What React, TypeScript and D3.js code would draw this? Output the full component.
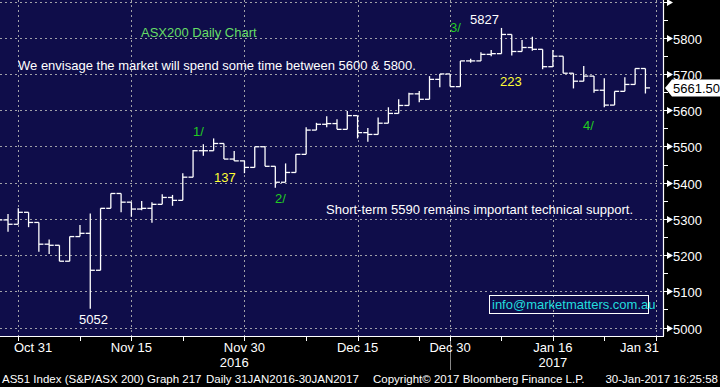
import React from 'react';
import * as d3 from 'd3';

// trading days shown (Jan 31 is only an axis position)
const dates = [
  '2016-10-27', '2016-10-28', '2016-10-31', '2016-11-01', '2016-11-02', '2016-11-03', '2016-11-04',
  '2016-11-07', '2016-11-08', '2016-11-09', '2016-11-10', '2016-11-11', '2016-11-14', '2016-11-15',
  '2016-11-16', '2016-11-17', '2016-11-18', '2016-11-21', '2016-11-22', '2016-11-23', '2016-11-24',
  '2016-11-25', '2016-11-28', '2016-11-29', '2016-11-30', '2016-12-01', '2016-12-02', '2016-12-05',
  '2016-12-06', '2016-12-07', '2016-12-08', '2016-12-09', '2016-12-12', '2016-12-13', '2016-12-14',
  '2016-12-15', '2016-12-16', '2016-12-19', '2016-12-20', '2016-12-21', '2016-12-22', '2016-12-23',
  '2016-12-28', '2016-12-29', '2016-12-30', '2017-01-03', '2017-01-04', '2017-01-05', '2017-01-06',
  '2017-01-09', '2017-01-10', '2017-01-11', '2017-01-12', '2017-01-13', '2017-01-16', '2017-01-17',
  '2017-01-18', '2017-01-19', '2017-01-20', '2017-01-23', '2017-01-24', '2017-01-25', '2017-01-27',
  '2017-01-30',
];
const opens = [
  5300, 5297, 5285, 5318, 5290, 5230, 5227, 5183, 5251, 5260, 5158, 5329, 5370, 5346,
  5327, 5329, 5340, 5359, 5351, 5415, 5488, 5488, 5508, 5465, 5460, 5442, 5499, 5445,
  5401, 5428, 5478, 5545, 5561, 5563, 5547, 5585, 5538, 5533, 5564, 5591, 5613, 5645,
  5630, 5685, 5700, 5665, 5736, 5736, 5754, 5756, 5809, 5762, 5773, 5768, 5720, 5749,
  5702, 5680, 5694, 5655, 5614, 5652, 5671, 5715,
];
const highs = [
  5312, 5313, 5329, 5318, 5290, 5243, 5227, 5251, 5283, 5315, 5329, 5370, 5370, 5346,
  5349, 5346, 5368, 5366, 5426, 5490, 5506, 5522, 5508, 5487, 5460, 5499, 5499, 5445,
  5453, 5478, 5553, 5565, 5583, 5575, 5598, 5585, 5551, 5580, 5608, 5630, 5648, 5653,
  5694, 5700, 5700, 5736, 5742, 5760, 5766, 5827, 5809, 5794, 5803, 5768, 5766, 5749,
  5702, 5722, 5694, 5688, 5652, 5691, 5715, 5715,
];
const lows = [
  5290, 5264, 5285, 5277, 5209, 5203, 5183, 5183, 5251, 5052, 5158, 5329, 5318, 5306,
  5324, 5289, 5340, 5336, 5351, 5415, 5474, 5488, 5465, 5460, 5426, 5442, 5445, 5386,
  5401, 5428, 5478, 5545, 5553, 5547, 5547, 5522, 5513, 5533, 5564, 5591, 5613, 5622,
  5630, 5663, 5665, 5665, 5731, 5736, 5749, 5756, 5751, 5762, 5764, 5713, 5720, 5702,
  5660, 5680, 5648, 5608, 5614, 5652, 5671, 5646,
];
const closes = [
  5297, 5285, 5318, 5290, 5230, 5227, 5183, 5251, 5260, 5158, 5329, 5370, 5346, 5327,
  5329, 5340, 5359, 5351, 5415, 5488, 5488, 5508, 5465, 5460, 5442, 5499, 5445, 5401,
  5428, 5478, 5545, 5561, 5563, 5547, 5585, 5538, 5533, 5564, 5591, 5613, 5645, 5630,
  5685, 5700, 5665, 5736, 5736, 5754, 5756, 5809, 5762, 5773, 5768, 5720, 5749, 5702,
  5680, 5694, 5655, 5614, 5652, 5671, 5715, 5661.5,
];

const tickDates = ['2016-10-31', '2016-11-15', '2016-11-30', '2016-12-15', '2016-12-30', '2017-01-16', '2017-01-31'];
const tickLabels = ['Oct 31', 'Nov 15', 'Nov 30', 'Dec 15', 'Dec 30', 'Jan 16', 'Jan 31'];
const minorTickDates = ['2016-11-08', '2016-11-22', '2016-12-08', '2016-12-23', '2017-01-09', '2017-01-23'];
const yearLabels = [
  { date: '2016-11-29', text: '2016' },
  { date: '2017-01-16', text: '2017' },
];
const yTicks = [5000, 5100, 5200, 5300, 5400, 5500, 5600, 5700, 5800, 5900];
const yMinor = [5050, 5150, 5250, 5350, 5450, 5550, 5650, 5750, 5850];
const lastPrice = 5661.5;

const W = 720;
const H = 387;
const plotRight = 663;
const plotBottom = 336;
const font = '"Liberation Sans", Arial, sans-serif';

export default function App() {
  const x = d3.scalePoint<string>()
    .domain([...dates, '2017-01-31'])
    .range([-2.26, 655.7]);
  const y = d3.scaleLinear().domain([5000, 5900]).range([327.5, 1.5]);

  const bars = dates.map((d, i) => ({ d, o: opens[i], h: highs[i], l: lows[i], c: closes[i] }));
  const tick = 4.6;

  return (
    <svg width={W} height={H} style={{ position: 'absolute', left: 0, top: 0 }} fontFamily={font}>
      <defs>
        <clipPath id="plot">
          <rect x={0} y={0} width={plotRight} height={plotBottom} />
        </clipPath>
      </defs>
      <rect width={W} height={H} fill="#000" />
      <rect width={plotRight} height={plotBottom} fill="#0f0d4a" />

      {/* grid */}
      <g stroke="#a0a0a8" strokeWidth={1} strokeDasharray="2,3" shapeRendering="crispEdges">
        {yTicks.map(v => (
          <line key={v} x1={0} x2={plotRight} y1={Math.round(y(v)) + 0.5} y2={Math.round(y(v)) + 0.5} />
        ))}
        {tickDates.map(d => (
          <line key={d} x1={Math.round(x(d)!) + 0.5} x2={Math.round(x(d)!) + 0.5} y1={0} y2={plotBottom} />
        ))}
      </g>

      {/* OHLC bars */}
      <g clipPath="url(#plot)" stroke="#fff" strokeWidth={1.3} fill="none">
        {bars.map(b => {
          const cx = x(b.d)!;
          return (
            <g key={b.d}>
              <line x1={cx} x2={cx} y1={y(b.h)} y2={y(b.l)} />
              <line x1={cx - tick} x2={cx} y1={y(b.o)} y2={y(b.o)} />
              <line x1={cx} x2={cx + tick} y1={y(b.c)} y2={y(b.c)} />
            </g>
          );
        })}
      </g>

      {/* annotations */}
      <g fontSize={13}>
        <text x={141} y={37} fill="#66dd66">ASX200 Daily Chart</text>
        <text x={18} y={70} fill="#fff">We envisage the market will spend some time between 5600 &amp; 5800.</text>
        <text x={326} y={214} fill="#fff">Short-term 5590 remains important technical support.</text>
        <text x={193} y={136} fill="#22cc22">1/</text>
        <text x={275} y={203} fill="#22cc22">2/</text>
        <text x={450} y={32} fill="#22cc22">3/</text>
        <text x={583} y={130} fill="#22cc22">4/</text>
        <text x={214} y={182} fill="#ffff33">137</text>
        <text x={500} y={86} fill="#ffff33">223</text>
        <text x={470} y={24} fill="#fff">5827</text>
        <text x={79} y={324} fill="#fff">5052</text>
        <rect x={489.5} y={295.5} width={159} height={18} fill="none" stroke="#fff" strokeWidth={1} />
        <text x={492} y={309} fill="#22dddd">info@marketmatters.com.au</text>
      </g>

      {/* right axis */}
      <g>
        <line x1={plotRight + 0.5} x2={plotRight + 0.5} y1={0} y2={plotBottom} stroke="#fff" strokeWidth={1.2} />
        {yMinor.map(v => (
          <line key={v} x1={plotRight} x2={plotRight + 5} y1={Math.round(y(v)) + 0.5} y2={Math.round(y(v)) + 0.5} stroke="#fff" />
        ))}
        {yTicks.map(v => {
          const yy = Math.round(y(v)) + 0.5;
          return (
            <g key={v}>
              <line x1={plotRight} x2={plotRight + 4} y1={yy} y2={yy} stroke="#fff" />
              <polygon points={`${plotRight + 4},${yy - 3.5} ${plotRight + 4},${yy + 3.5} ${plotRight + 10},${yy}`} fill="#fff" />
              {v < 5900 && (
                <text x={673} y={yy + 5} fill="#fff" fontSize={13}>{v}</text>
              )}
            </g>
          );
        })}
        <polygon
          points={`${plotRight + 2},${y(lastPrice)} ${plotRight + 9},${y(lastPrice) - 8.5} ${W},${y(lastPrice) - 8.5} ${W},${y(lastPrice) + 8.5} ${plotRight + 9},${y(lastPrice) + 8.5}`}
          fill="#fff"
        />
        <text x={673} y={y(lastPrice) + 5} fill="#000" fontSize={13}>{d3.format('.2f')(lastPrice)}</text>
      </g>

      {/* bottom axis */}
      <g>
        <line x1={0} x2={plotRight + 1} y1={plotBottom + 0.5} y2={plotBottom + 0.5} stroke="#fff" strokeWidth={1.2} />
        {[...tickDates, ...minorTickDates].map(d => (
          <line key={d} x1={Math.round(x(d)!) + 0.5} x2={Math.round(x(d)!) + 0.5} y1={plotBottom} y2={plotBottom + 5} stroke="#fff" />
        ))}
        <line x1={Math.round(x('2016-12-30')!) + 0.5} x2={Math.round(x('2016-12-30')!) + 0.5} y1={plotBottom + 5} y2={370} stroke="#888" />
        {tickDates.map((d, i) => {
          const anchor = i === 0 ? 'start' : i === tickDates.length - 1 ? 'end' : 'middle';
          const tx = i === 0 ? 14 : i === tickDates.length - 1 ? 659 : x(d)!;
          return (
            <text key={d} x={tx} y={352} fill="#fff" fontSize={13} textAnchor={anchor}>{tickLabels[i]}</text>
          );
        })}
        {yearLabels.map(yl => (
          <text key={yl.text} x={x(yl.date)!} y={367} fill="#fff" fontSize={13} textAnchor="middle">{yl.text}</text>
        ))}
      </g>

      {/* footer */}
      <g fontSize={11.5} fill="#fff">
        <text x={2} y={383}>AS51 Index (S&amp;P/ASX 200) Graph 217</text>
        <text x={206} y={383}>Daily 31JAN2016-30JAN2017</text>
        <text x={373} y={383}>Copyright© 2017 Bloomberg Finance L.P.</text>
        <text x={718} y={383} textAnchor="end">30-Jan-2017 16:25:58</text>
      </g>
    </svg>
  );
}
